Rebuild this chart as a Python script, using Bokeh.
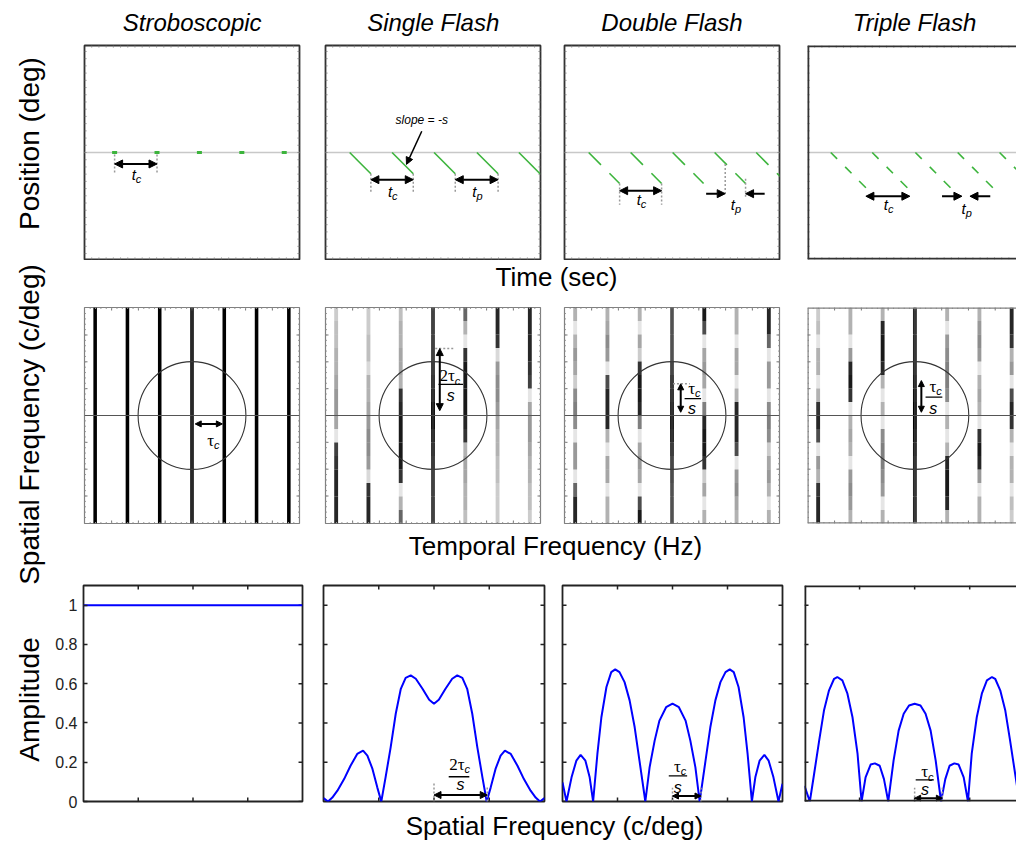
import math
from bokeh.plotting import figure
from bokeh.layouts import row, column
from bokeh.models import (Range1d, LinearAxis, FixedTicker, Span, Arrow, NormalHead,
                          CustomJSTickFormatter)
from bokeh.core.properties import value
from bokeh.embed import file_html
from bokeh.resources import INLINE

SANS = "Liberation Sans"
SERIF = "Liberation Serif"

# ------------------------------------------------------------------ texts
titles = ["Stroboscopic", "Single Flash", "Double Flash", "Triple Flash"]
row_labels = ["Position (deg)", "Spatial Frequency (c/deg)", "Amplitude"]
x_labels = ["Time (sec)", "Temporal Frequency (Hz)", "Spatial Frequency (c/deg)"]
amp_ticks = [0, 0.2, 0.4, 0.6, 0.8, 1.0]

# ------------------------------------------------------------------ row 1 data (time in t_c units)
strobe_flash_t = [0.71, 1.71, 2.71, 3.71, 4.71]
single_cycle_t = [0.57, 1.57, 2.56, 3.57, 4.56]
single_windows = [(0.0, 0.50)]
double_cycle_t = [0.57, 1.56, 2.55, 3.54, 4.52]
double_windows = [(0.0, 0.29), (0.49, 0.73)]
triple_cycle_t = [0.55, 1.53, 2.55, 3.55, 4.54]
triple_windows = [(0.0, 0.15), (0.34, 0.49), (0.67, 0.83)]
speed = 1.0

# ------------------------------------------------------------------ row 2 data
stripe_tf = [-3, -2, -1, 0, 1, 2, 3]
circle_radius = 1.67
strobe_stripes = [[1.0] for _ in stripe_tf]
single_stripes = [
    [0.2, 0.25, 0.25, 0.3, 0.3, 0.35, 0.4, 0.4, 0.35, 0.1, 0.75, 0.8, 0.85, 0.85, 0.85, 0.85],
    [0.2, 0.2, 0.25, 0.25, 0.15, 0.3, 0.3, 0.35, 0.4, 0.45, 0.45, 0.4, 0.15, 0.8, 0.85, 0.85],
    [0.25, 0.3, 0.3, 0.35, 0.35, 0.3, 0.8, 0.85, 0.9, 0.9, 0.9, 0.9, 0.8, 0.1, 0.3, 0.6],
    [0.75, 0.75, 0.75, 0.75, 0.8, 0.85, 0.9, 1.0, 1.0, 0.9, 0.85, 0.8, 0.75, 0.75, 0.75, 0.75],
    [0.6, 0.3, 0.1, 0.8, 0.9, 0.9, 0.9, 0.9, 0.85, 0.8, 0.3, 0.35, 0.35, 0.3, 0.3, 0.25],
    [0.85, 0.85, 0.8, 0.15, 0.4, 0.45, 0.45, 0.4, 0.35, 0.3, 0.3, 0.25, 0.25, 0.2, 0.2, 0.2],
    [0.85, 0.85, 0.85, 0.85, 0.8, 0.75, 0.1, 0.35, 0.4, 0.4, 0.35, 0.3, 0.3, 0.25, 0.25, 0.2],
]
double_stripes = [
    [0.3, 0.1, 0.3, 0.4, 0.35, 0.2, 0.45, 0.5, 0.45, 0.1, 0.4, 0.4, 0.1, 0.6, 0.85, 0.85],
    [0.3, 0.35, 0.45, 0.4, 0.1, 0.7, 0.85, 0.85, 0.85, 0.3, 0.1, 0.35, 0.35, 0.1, 0.3, 0.3],
    [0.3, 0.1, 0.35, 0.2, 0.8, 0.9, 0.9, 0.85, 0.5, 0.1, 0.35, 0.4, 0.35, 0.1, 0.7, 0.9],
    [0.6, 0.6, 0.6, 0.6, 0.7, 0.8, 0.85, 0.9, 0.95, 0.9, 0.8, 0.7, 0.65, 0.6, 0.6, 0.6],
    [0.9, 0.7, 0.1, 0.35, 0.4, 0.35, 0.1, 0.5, 0.85, 0.9, 0.9, 0.8, 0.2, 0.35, 0.1, 0.3],
    [0.3, 0.3, 0.1, 0.35, 0.35, 0.1, 0.3, 0.85, 0.85, 0.85, 0.7, 0.1, 0.4, 0.45, 0.35, 0.3],
    [0.85, 0.85, 0.6, 0.1, 0.4, 0.4, 0.1, 0.45, 0.5, 0.45, 0.2, 0.35, 0.4, 0.3, 0.1, 0.3],
]
triple_stripes = [
    [0.2, 0.25, 0.1, 0.3, 0.3, 0.1, 0.3, 0.8, 0.85, 0.7, 0.1, 0.4, 0.3, 0.8, 0.85, 0.85],
    [0.3, 0.3, 0.1, 0.4, 0.85, 0.9, 0.8, 0.1, 0.3, 0.35, 0.3, 0.1, 0.4, 0.45, 0.4, 0.3],
    [0.3, 0.85, 0.9, 0.9, 0.85, 0.3, 0.1, 0.3, 0.1, 0.45, 0.5, 0.5, 0.45, 0.4, 0.1, 0.3],
    [0.85, 0.85, 0.85, 0.85, 0.85, 0.9, 0.95, 1.0, 1.0, 0.95, 0.9, 0.85, 0.85, 0.85, 0.85, 0.85],
    [0.3, 0.1, 0.4, 0.45, 0.5, 0.5, 0.45, 0.1, 0.3, 0.1, 0.3, 0.85, 0.9, 0.9, 0.85, 0.3],
    [0.3, 0.4, 0.45, 0.4, 0.1, 0.3, 0.35, 0.3, 0.1, 0.8, 0.9, 0.85, 0.4, 0.1, 0.3, 0.3],
    [0.85, 0.85, 0.8, 0.3, 0.4, 0.1, 0.7, 0.85, 0.8, 0.3, 0.1, 0.3, 0.3, 0.1, 0.25, 0.2],
]

# ------------------------------------------------------------------ row 3 data (amplitude spectra)
strobe_sf = [-4.13, 4.13]
strobe_amp = [1.0, 1.0]
single_sf = [-4.13, -3.96, -3.80, -3.61, -3.36, -3.12, -2.87, -2.65, -2.49, -2.30, -2.12,
             -1.97, -1.81, -1.62, -1.43, -1.24, -1.06, -0.87, -0.68, -0.43, -0.18, 0.0,
             0.18, 0.43, 0.68, 0.87, 1.06, 1.24, 1.43, 1.62, 1.81, 1.97,
             2.12, 2.30, 2.49, 2.65, 2.87, 3.12, 3.36, 3.61, 3.80, 3.96, 4.13]
single_amp = [0.017, 0.0, 0.020, 0.055, 0.114, 0.182, 0.242, 0.259, 0.234, 0.166, 0.072,
              0.0, 0.123, 0.276, 0.447, 0.574, 0.630, 0.642, 0.625, 0.574, 0.518, 0.498,
              0.518, 0.574, 0.625, 0.642, 0.630, 0.574, 0.447, 0.276, 0.123, 0.0,
              0.072, 0.166, 0.234, 0.259, 0.242, 0.182, 0.114, 0.055, 0.020, 0.0, 0.017]
double_sf = [-4.13, -3.98, -3.79, -3.61, -3.45, -3.27, -3.11, -2.98, -2.82, -2.67, -2.48,
             -2.30, -2.15, -1.99, -1.80, -1.61, -1.42, -1.24, -1.02, -0.86, -0.67, -0.49,
             -0.24, 0.0, 0.24, 0.49, 0.67, 0.86, 1.02, 1.24, 1.42, 1.61, 1.80, 1.99,
             2.15, 2.30, 2.48, 2.67, 2.82, 2.98, 3.11, 3.27, 3.45, 3.61, 3.79, 3.98, 4.13]
double_amp = [0.097, 0.0, 0.123, 0.208, 0.237, 0.208, 0.123, 0.0, 0.242, 0.429, 0.583,
              0.659, 0.673, 0.659, 0.608, 0.515, 0.378, 0.208, 0.0, 0.174, 0.31, 0.412,
              0.48, 0.498, 0.48, 0.412, 0.31, 0.174, 0.0, 0.208, 0.378, 0.515, 0.608, 0.659,
              0.673, 0.659, 0.583, 0.429, 0.242, 0.0, 0.123, 0.208, 0.237, 0.208, 0.123, 0.0, 0.09]
triple_sf = [-4.13, -3.93, -3.77, -3.58, -3.40, -3.21, -3.02, -2.90, -2.71, -2.52, -2.33,
             -2.14, -1.99, -1.84, -1.65, -1.49, -1.31, -1.15, -0.99, -0.79, -0.60, -0.41,
             -0.21, 0.0, 0.22, 0.41, 0.60, 0.79, 0.99, 1.15, 1.31, 1.49, 1.65, 1.84, 2.0,
             2.14, 2.33, 2.52, 2.71, 2.90, 3.02, 3.21, 3.40, 3.58, 3.77, 3.93]
triple_amp = [0.08, 0.0, 0.14, 0.31, 0.463, 0.566, 0.625, 0.634, 0.617, 0.549, 0.429,
              0.242, 0.0, 0.123, 0.188, 0.194, 0.182, 0.114, 0.0, 0.208, 0.361, 0.447,
              0.489, 0.498, 0.489, 0.447, 0.361, 0.208, 0.0, 0.114, 0.182, 0.194, 0.188, 0.123, 0.0,
              0.242, 0.429, 0.549, 0.617, 0.634, 0.625, 0.566, 0.463, 0.31, 0.14, 0.0]

# ------------------------------------------------------------------ styling
GREEN = "#3cb43c"
BLUE = "#0000ff"
DOT = "#999999"
LEFT_W = 52
TOTAL_W = 1016

R1_Y = (-2.52, 2.52)
R2_Y = (-3.34, 3.34)
R3_Y = (0, 1.1)


def make_panel(w, h, bl, br, bt, bb, xr, yr, frame_color, frame_width, open_right=False):
    p = figure(width=w, height=h, x_range=Range1d(*xr), y_range=Range1d(*yr),
               toolbar_location=None, output_backend="svg", title=None,
               x_axis_location=None, y_axis_location=None,
               min_border_left=bl, min_border_right=br,
               min_border_top=bt, min_border_bottom=bb)
    p.xgrid.visible = False
    p.ygrid.visible = False
    p.background_fill_color = "white"
    p.border_fill_color = "white"
    if open_right:
        p.outline_line_color = None
        for loc, dim in [(xr[0], "height"), (yr[0], "width"), (yr[1], "width")]:
            p.add_layout(Span(location=loc, dimension=dim, line_color=frame_color,
                              line_width=frame_width * 2, level="overlay"))
    else:
        p.outline_line_color = frame_color
        p.outline_line_width = frame_width
        p.outline_line_alpha = 1.0
    return p


def multiples(lo, hi, step):
    out = []
    k = math.ceil(lo / step - 1e-9)
    while k * step <= hi + 1e-9:
        out.append(k * step)
        k += 1
    return out


def frame_ticks(p, xr, yr, fw, fh, xt, yt, length, color, width, sides):
    lx = length * (xr[1] - xr[0]) / fw
    ly = length * (yr[1] - yr[0]) / fh
    X0, Y0, X1, Y1 = [], [], [], []
    for x in xt:
        if "bottom" in sides:
            X0.append(x); Y0.append(yr[0]); X1.append(x); Y1.append(yr[0] + ly)
        if "top" in sides:
            X0.append(x); Y0.append(yr[1]); X1.append(x); Y1.append(yr[1] - ly)
    for y in yt:
        if "left" in sides:
            X0.append(xr[0]); Y0.append(y); X1.append(xr[0] + lx); Y1.append(y)
        if "right" in sides:
            X0.append(xr[1]); Y0.append(y); X1.append(xr[1] - lx); Y1.append(y)
    p.segment(x0=X0, y0=Y0, x1=X1, y1=Y1, line_color=color, line_width=width)


def txt(p, x, y, s, size, font=SANS, style="normal", align="center", baseline="middle",
        angle=0.0, xo=0, yo=0):
    p.text(x=[x], y=[y], text=[s], text_font=value(font), text_font_style=style,
           text_font_size=f"{size}px", text_align=align, text_baseline=baseline,
           text_color="black", angle=angle, x_offset=xo, y_offset=yo)


def sub_txt(p, x, y, main, sub, size=15, sub_size=11, font=SANS, style="italic", shift=0):
    txt(p, x, y, main, size, font=font, style=style, align="right", xo=shift)
    txt(p, x, y, sub, sub_size, font=SANS, style="italic", align="left", xo=shift, yo=size * 0.3)


def arrow(p, x0, y0, x1, y1, both=True, size=8, width=2):
    def head():
        return NormalHead(size=size, fill_color="black", line_color="black", line_width=1)
    p.add_layout(Arrow(x_start=x0, y_start=y0, x_end=x1, y_end=y1, end=head(),
                       start=head() if both else None, line_width=width, line_color="black"))


def dotted(p, x0, y0, x1, y1):
    p.segment(x0=x0, y0=y0, x1=x1, y1=y1, line_color=DOT, line_width=1.5, line_dash="2 2")


def fraction(p, x, y_num, y_bar, bx0, bx1, y_den, num, shift=0, size=17):
    sub_txt(p, x, y_num, num, "c", size=size, sub_size=11, font=SERIF, style="normal", shift=shift)
    p.segment(x0=[bx0], y0=[y_bar], x1=[bx1], y1=[y_bar], line_color="black", line_width=1.3)
    txt(p, x, y_den, "s", 16, style="italic")


def flash_segments(cycle_t, windows):
    x0, y0, x1, y1 = [], [], [], []
    for t0 in cycle_t:
        for a, b in windows:
            x0.append(t0 + a)
            y0.append(-speed * a)
            x1.append(t0 + b)
            y1.append(-speed * b)
    return x0, y0, x1, y1


def draw_stripes(p, tf, intens, width, yr):
    nb = len(intens[0])
    h = (yr[1] - yr[0]) / nb
    L, R, T, B, A = [], [], [], [], []
    for k, col in zip(tf, intens):
        for i, a in enumerate(col):
            L.append(k - width / 2)
            R.append(k + width / 2)
            T.append(yr[1] - i * h)
            B.append(yr[1] - (i + 1) * h)
            A.append(a)
    p.quad(left=L, right=R, top=T, bottom=B, fill_color="black", fill_alpha=A, line_color=None)


def strip(w, h, x0):
    p = figure(width=w, height=h, x_range=Range1d(x0, x0 + w), y_range=Range1d(0, h),
               toolbar_location=None, output_backend="svg", title=None,
               x_axis_location=None, y_axis_location=None,
               min_border_left=0, min_border_right=0, min_border_top=0, min_border_bottom=0)
    p.xgrid.visible = False
    p.ygrid.visible = False
    p.outline_line_color = None
    p.background_fill_color = "white"
    p.border_fill_color = "white"
    return p


# ------------------------------------------------------------------ row 1
R1_W = [260, 240, 241, 223]
R1_BL = [32, 13, 12, 14]
R1_BR = [13, 12, 14, 0]
R1_FW = [215, 215, 215, 209]
R1_X = [(0, 5.07), (0, 5.07), (0, 5.07), (0, 4.94)]
row1 = []
for i in range(4):
    p = make_panel(R1_W[i], 220, R1_BL[i], R1_BR[i], 5, 1, R1_X[i], R1_Y, "#333333", 1.8,
                   open_right=(i == 3))
    sides = ["bottom", "top", "left"] + (["right"] if i < 3 else [])
    frame_ticks(p, R1_X[i], R1_Y, R1_FW[i], 214,
                multiples(R1_X[i][0] + 0.05, R1_X[i][1] - 0.05, 0.17),
                multiples(R1_Y[0] + 0.05, R1_Y[1] - 0.05, 0.17), 2, "#888888", 1, sides)
    p.add_layout(Span(location=0, dimension="width", line_color="#c8c8c8", line_width=1.5,
                      level="underlay"))
    row1.append(p)

p = row1[0]
p.rect(x=strobe_flash_t, y=[0] * len(strobe_flash_t), width=5, height=3,
       width_units="screen", height_units="screen", fill_color=GREEN, line_color=None)
dotted(p, strobe_flash_t[:2], [-0.05, -0.05], strobe_flash_t[:2], [-0.5, -0.5])
arrow(p, strobe_flash_t[0], -0.27, strobe_flash_t[1], -0.27)
sub_txt(p, 1.21, -0.52, "t", "c")

p = row1[1]
x0, y0, x1, y1 = flash_segments(single_cycle_t, single_windows)
p.segment(x0=x0, y0=y0, x1=x1, y1=y1, line_color=GREEN, line_width=1.6)
dotted(p, [x1[0], x1[1], x1[2], x1[3]], [-0.5] * 4, [x1[0], x1[1], x1[2], x1[3]], [-0.96] * 4)
arrow(p, x1[0], -0.64, x1[1], -0.64)
arrow(p, x1[2], -0.64, x1[3], -0.64)
sub_txt(p, 1.57, -0.92, "t", "c")
sub_txt(p, 3.56, -0.92, "t", "p")
txt(p, 2.27, 0.77, "slope = -s", 12, style="italic")
arrow(p, 2.27, 0.5, 1.91, -0.28, both=False, size=7, width=1.5)

p = row1[2]
x0, y0, x1, y1 = flash_segments(double_cycle_t, double_windows)
p.segment(x0=x0, y0=y0, x1=x1, y1=y1, line_color=GREEN, line_width=1.6)
dotted(p, [1.30, 2.29], [-0.73, -0.73], [1.30, 2.29], [-1.23, -1.23])
arrow(p, 1.30, -0.90, 2.29, -0.90)
sub_txt(p, 1.80, -1.10, "t", "c")
dotted(p, [3.79, 4.27], [-0.27, -0.62], [3.79, 4.27], [-0.97, -1.06])
arrow(p, 3.34, -0.97, 3.79, -0.97, both=False)
arrow(p, 4.72, -0.97, 4.27, -0.97, both=False)
sub_txt(p, 4.02, -1.22, "t", "p")

p = row1[3]
x0, y0, x1, y1 = flash_segments(triple_cycle_t, triple_windows)
p.segment(x0=x0, y0=y0, x1=x1, y1=y1, line_color=GREEN, line_width=1.6)
arrow(p, 1.38, -1.03, 2.42, -1.03)
sub_txt(p, 1.90, -1.22, "t", "c")
arrow(p, 3.18, -1.03, 3.65, -1.03, both=False)
arrow(p, 4.32, -1.03, 3.84, -1.03, both=False)
sub_txt(p, 3.74, -1.32, "t", "p")

# ------------------------------------------------------------------ row 2
R2_X = [(-3.33, 3.33), (-3.33, 3.33), (-3.33, 3.33), (-3.33, 3.15)]
stripe_sets = [strobe_stripes, single_stripes, double_stripes, triple_stripes]
row2 = []
for i in range(4):
    p = make_panel(R1_W[i], 227, R1_BL[i], R1_BR[i], 7, 4, R2_X[i], R2_Y, "#808080", 1.2,
                   open_right=(i == 3))
    sides = ["bottom", "top", "left"] + (["right"] if i < 3 else [])
    draw_stripes(p, stripe_tf, stripe_sets[i], 0.11 if i == 0 else 0.12, R2_Y)
    frame_ticks(p, R2_X[i], R2_Y, R1_FW[i], 216,
                multiples(R2_X[i][0] + 0.05, R2_X[i][1] - 0.05, 0.83),
                multiples(R2_Y[0] + 0.05, R2_Y[1] - 0.05, 0.83), 3, "#777777", 1, sides)
    frame_ticks(p, R2_X[i], R2_Y, R1_FW[i], 216,
                multiples(R2_X[i][0] + 0.05, R2_X[i][1] - 0.05, 0.166),
                multiples(R2_Y[0] + 0.05, R2_Y[1] - 0.05, 0.166), 1.5, "#999999", 1, sides)
    p.add_layout(Span(location=0, dimension="width", line_color="#555555", line_width=1.2))
    p.add_layout(Span(location=0, dimension="height", line_color="#444444", line_width=1.2))
    p.circle(x=[0], y=[0], radius=circle_radius, fill_color=None, line_color="#333333",
             line_width=1.1)
    row2.append(p)

p = row2[0]
arrow(p, 0.10, -0.26, 0.94, -0.26, size=6)
sub_txt(p, 0.62, -0.77, "\u03c4", "c", size=17, font=SERIF, style="normal", shift=2)

p = row2[1]
arrow(p, 0.21, 0.15, 0.21, 2.07, size=7)
dotted(p, [0.07], [2.07], [0.63], [2.07])
fraction(p, 0.55, 1.24, 0.96, 0.17, 0.93, 0.62, "2\u03c4", shift=4)

p = row2[2]
arrow(p, 0.27, 0.10, 0.27, 0.98, size=6)
dotted(p, [0.03], [0.98], [0.55], [0.98])
fraction(p, 0.62, 0.85, 0.52, 0.39, 0.90, 0.21, "\u03c4", shift=3)

p = row2[3]
arrow(p, 0.20, 0.10, 0.20, 1.08, size=6)
fraction(p, 0.57, 0.90, 0.57, 0.33, 0.85, 0.23, "\u03c4", shift=3)

# ------------------------------------------------------------------ row 3
R3_W = [260, 241, 239, 224]
R3_BL = [29, 11, 9, 12]
R3_BR = [10, 9, 10, 0]
R3_FW = [221, 221, 220, 212]
R3_X = [(-4.13, 4.13), (-4.13, 4.13), (-4.13, 4.13), (-4.13, 3.82)]
curves = [(strobe_sf, strobe_amp), (single_sf, single_amp), (double_sf, double_amp),
          (triple_sf, triple_amp)]
quarter_ticks = [-2.065, 0.0, 2.065]
row3 = []
for i in range(4):
    p = make_panel(R3_W[i], 242, R3_BL[i], R3_BR[i], 18, 8, R3_X[i], R3_Y, "#222222", 1.8,
                   open_right=(i == 3))
    sides = ["bottom", "top"] + (["left"] if i > 0 else []) + (["right"] if i < 3 else [])
    frame_ticks(p, R3_X[i], R3_Y, R3_FW[i], 216, quarter_ticks, amp_ticks, 4, "#222222", 1.5,
                sides)
    if i == 0:
        ax = LinearAxis(ticker=FixedTicker(ticks=amp_ticks), axis_line_color=None,
                        major_tick_in=4, major_tick_out=0, minor_tick_in=0, minor_tick_out=0,
                        major_tick_line_color="#222222", major_tick_line_width=1.5)
        ax.formatter = CustomJSTickFormatter(code="return String(Math.round(tick*10)/10);")
        ax.major_label_text_font = SANS
        ax.major_label_text_font_size = "16px"
        ax.major_label_text_color = "#222222"
        ax.major_label_standoff = 6
        p.add_layout(ax, "left")
    sx, sa = curves[i]
    p.line(x=sx, y=sa, line_color=BLUE, line_width=2)
    row3.append(p)

p = row3[1]
dotted(p, [0.0, 1.99], [0.0, 0.0], [0.0, 1.99], [0.10, 0.08])
arrow(p, 0.0, 0.033, 1.99, 0.033, size=7)
fraction(p, 0.99, 0.19, 0.126, 0.55, 1.32, 0.087, "2\u03c4", shift=4)

p = row3[2]
dotted(p, [0.0, 1.07], [0.0, 0.0], [0.0, 1.07], [0.07, 0.07])
arrow(p, 0.0, 0.028, 1.07, 0.028, size=6)
fraction(p, 0.2, 0.18, 0.13, -0.14, 0.55, 0.07, "\u03c4", shift=3)

p = row3[3]
dotted(p, [0.0, 1.04], [0.0, 0.0], [0.0, 1.04], [0.07, 0.07])
arrow(p, 0.0, 0.017, 1.04, 0.017, size=6)
fraction(p, 0.39, 0.153, 0.11, 0.04, 0.72, 0.06, "\u03c4", shift=3)

# ------------------------------------------------------------------ text strips
# vertical layout: top 0-40, row1 40-260, strip1 260-300, row2 300-527,
# strip2 527-567, row3 567-809, strip3 809-842
RIGHT_W = TOTAL_W - LEFT_W
top_strip = strip(RIGHT_W, 40, LEFT_W)
panel_centers = [191.7, 432.7, 671.5, 914.0]
for t, cx in zip(titles, panel_centers):
    txt(top_strip, cx, 40 - 22, t, 24, style="italic")

strip1 = strip(RIGHT_W, 40, LEFT_W)
txt(strip1, 556, 300 - 276, x_labels[0], 26)
strip2 = strip(RIGHT_W, 40, LEFT_W)
txt(strip2, 555, 567 - 545, x_labels[1], 26)
strip3 = strip(RIGHT_W, 33, LEFT_W)
txt(strip3, 554, 842 - 825, x_labels[2], 26)

left = strip(LEFT_W, 842, 0)
for lab, py in zip(row_labels, [143, 424, 699]):
    txt(left, 29, 842 - py, lab, 28, angle=math.pi / 2)

layout = row(
    left,
    column(top_strip, row(*row1), strip1, row(*row2), strip2, row(*row3), strip3),
)

open("out.html", "w").write(file_html(layout, INLINE))
